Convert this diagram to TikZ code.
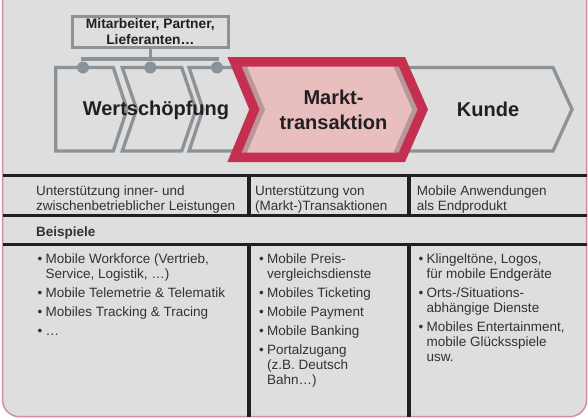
\documentclass[tikz,border=0pt]{standalone}
\usepackage{fontspec}
\setmainfont{Liberation Sans}
\usetikzlibrary{positioning,calc}
\definecolor{hg}{RGB}{222,222,222}
\definecolor{rahmen}{RGB}{212,140,158}
\definecolor{grau}{RGB}{139,147,152}
\definecolor{rot}{RGB}{197,48,80}
\definecolor{rosa}{RGB}{232,190,190}
\definecolor{schatten}{RGB}{184,152,155}
\definecolor{schwarz}{RGB}{35,31,32}
\definecolor{textgrau}{RGB}{50,50,50}
\tikzstyle{kette} = [draw=grau, line width=3.3pt, line join=miter]
\tikzstyle{kopf} = [font=\fontsize{20}{25}\selectfont\bfseries, text=schwarz, align=center, inner sep=0pt]
\tikzstyle{zelle} = [font=\fontsize{13.5}{15}\selectfont, text=textgrau, align=left, anchor=north west, inner sep=0pt]
\tikzstyle{linie} = [draw=schwarz, line width=3.8pt]
\tikzstyle{trenn} = [draw=schwarz, line width=3.5pt]
\tikzstyle{punkt} = [circle, fill=grau, inner sep=0pt, minimum size=12pt]
\tikzstyle{verb} = [draw=grau, line width=3.3pt]
\newcommand{\pkt}{\makebox[8pt][l]{•}}

\begin{document}
\begin{tikzpicture}[x=1pt,y=-1pt]
\useasboundingbox (0,0) rectangle (588,418);
\draw[draw=rahmen, line width=1.5pt, fill=hg, rounded corners=17pt] (2.5,-30) -- (2.5,416.7) -- (586.7,416.7) -- (586.7,-30);

\draw[linie] (2.5,175.5) -- (586.7,175.5);
\draw[linie] (2.5,215.5) -- (586.7,215.5);
\draw[linie] (2.5,244.5) -- (586.7,244.5);
\draw[trenn] (249,177) -- (249,214);
\draw[trenn] (408.8,177) -- (408.8,214);
\draw[trenn] (249,246) -- (249,416.7);
\draw[trenn] (408.8,246) -- (408.8,416.7);

\draw[kette] (55.7,67.5) -- (113.3,67.5) -- (127,109.3) -- (113.3,151) -- (55.7,151) -- cycle;
\draw[kette] (122.3,67.5) -- (181.7,67.5) -- (196,109.3) -- (181.7,151) -- (122.3,151) -- (136.6,109.3) -- cycle;
\draw[kette] (189,67.5) -- (248,67.5) -- (262,109.3) -- (248,151) -- (189,151) -- (203,109.3) -- cycle;
\draw[kette] (395,67.5) -- (553,67.5) -- (572,109.3) -- (553,151) -- (395,151) -- (414,109.3) -- cycle;

\fill[rosa] (234.5,61.75) -- (401.9,61.75) -- (422.8,109.5) -- (401.9,157.25) -- (234.5,157.25) -- (254.4,109.5) -- cycle;
\draw[draw=schatten, line width=5pt] (244,66) -- (262.3,109.5) -- (244,153);
\draw[draw=schatten, line width=5pt] (396,66) -- (415,109.5) -- (396,153);
\draw[draw=rot, line width=9.5pt, line join=miter] (234.5,61.75) -- (401.9,61.75) -- (422.8,109.5) -- (401.9,157.25) -- (234.5,157.25) -- (254.4,109.5) -- cycle;

\node (mit) at (150.35,32) [draw=grau, line width=3.3pt, fill=hg, minimum width=156.3pt, minimum height=31pt, inner sep=0pt, font=\fontsize{13.8}{16}\selectfont\bfseries, text=schwarz, align=center] {Mitarbeiter, Partner,\\Lieferanten…};
\node[punkt] (d1) at (83,67.5) {};
\node[punkt] (d2) at (150.35,67.5) {};
\node[punkt] (d3) at (217,67.5) {};
\coordinate (h1) at (83,59);
\coordinate (h3) at (217,59);
\draw[verb] (mit) -- (d2);
\draw[verb] (d1) -- (h1) -- (h3) -- (d3);

\node[kopf, anchor=base] (w) at (156,115) {Wertschöpfung};
\node[kopf] (mt) at (333.5,109.5) {Markt-\\transaktion};
\node[kopf, anchor=base] (k) at (488,116.5) {Kunde};

\node[zelle] (u1) at (36,184.5) {\strut Unterstützung inner- und\\zwischenbetrieblicher Leistungen};
\node[zelle] (u2) at (255,184.5) {\strut Unterstützung von\\(Markt-)Transaktionen};
\node[zelle] (u3) at (416.7,184.5) {\strut Mobile Anwendungen\\als Endprodukt};
\node[zelle, anchor=base west, font=\fontsize{13.5}{15}\selectfont\bfseries] (b) at (36,236) {Beispiele};

\node[zelle] (l1) at (37.5,252.8) {\strut\pkt Mobile Workforce (Vertrieb,\\\hspace*{8pt}Service, Logistik, …)\\[4pt]\pkt Mobile Telemetrie \& Telematik\\[4pt]\pkt Mobiles Tracking \& Tracing\\[4pt]\pkt …};
\node[zelle] (l2) at (259,252.8) {\strut\pkt Mobile Preis-\\\hspace*{8pt}vergleichsdienste\\[4pt]\pkt Mobiles Ticketing\\[4pt]\pkt Mobile Payment\\[4pt]\pkt Mobile Banking\\[4pt]\pkt Portalzugang\\\hspace*{8pt}(z.B. Deutsch\\\hspace*{8pt}Bahn…)};
\node[zelle] (l3) at (418.5,252.8) {\strut\pkt Klingeltöne, Logos,\\\hspace*{8pt}für mobile Endgeräte\\[4pt]\pkt Orts-/Situations-\\\hspace*{8pt}abhängige Dienste\\[4pt]\pkt Mobiles Entertainment,\\\hspace*{8pt}mobile Glücksspiele\\\hspace*{8pt}usw.};
\end{tikzpicture}
\end{document}
